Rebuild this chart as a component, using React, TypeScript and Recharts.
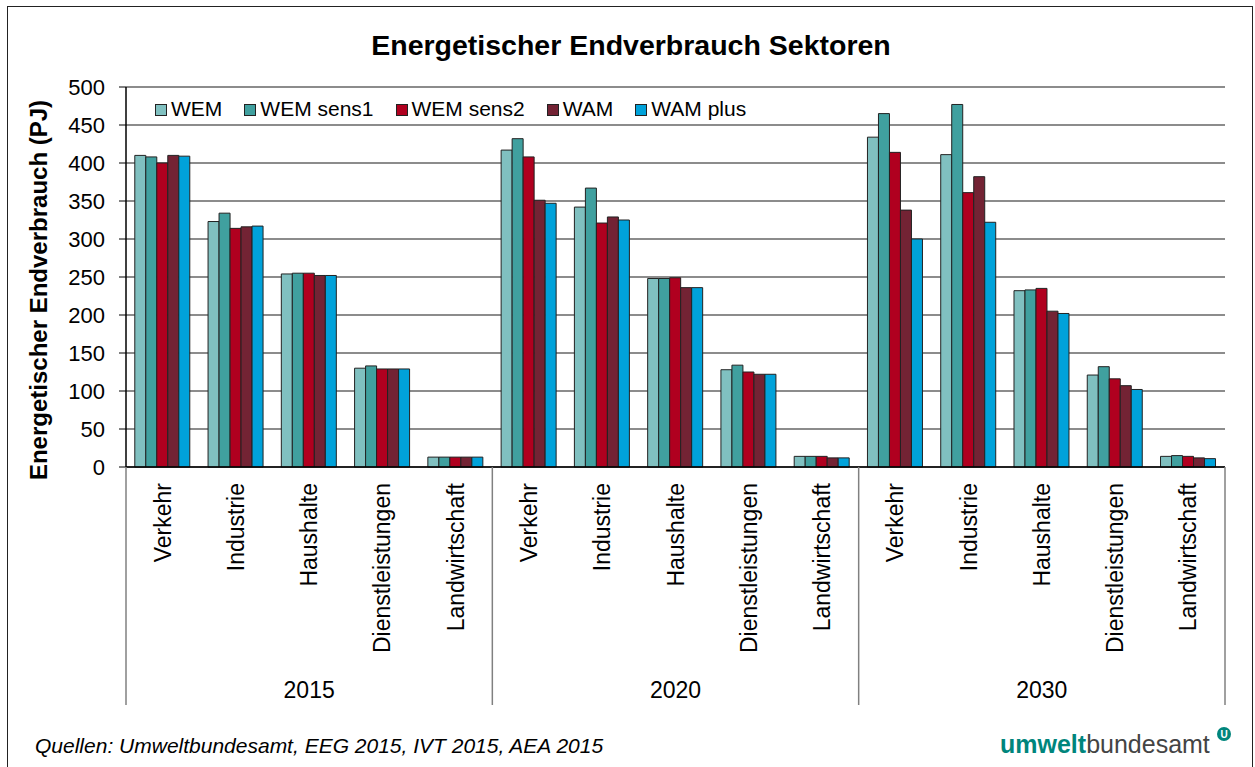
import { BarChart, Bar, XAxis, YAxis, CartesianGrid } from 'recharts'

const FONT = "'Liberation Sans', Arial, Helvetica, sans-serif"

const categories = ['Verkehr', 'Industrie', 'Haushalte', 'Dienstleistungen', 'Landwirtschaft']
const years = ['2015', '2020', '2030']

const seriesNames = ['WEM', 'WEM sens1', 'WEM sens2', 'WAM', 'WAM plus']
const seriesColors = ['#80c0c0', '#40a09f', '#b0001f', '#732334', '#00a2da']

// values in PJ, order: 2015 (5 sectors), 2020, 2030
const wem = [410, 323, 254, 130, 13, 417, 342, 248, 128, 14, 434, 411, 232, 121, 14]
const wemSens1 = [408, 334, 255, 133, 13, 432, 367, 248, 134, 14, 465, 477, 233, 132, 15]
const wemSens2 = [400, 314, 255, 129, 13, 408, 321, 249, 125, 14, 414, 361, 235, 116, 14]
const wam = [410, 316, 252, 129, 13, 351, 329, 236, 122, 12, 338, 382, 205, 107, 12]
const wamPlus = [409, 317, 252, 129, 13, 347, 325, 236, 122, 12, 300, 322, 202, 102, 11]

const yTicks = [0, 50, 100, 150, 200, 250, 300, 350, 400, 450, 500]

const seriesValues = [wem, wemSens1, wemSens2, wam, wamPlus]

const rows = years.flatMap((year, gi) =>
  categories.map((cat, ci) => {
    const i = gi * categories.length + ci
    const row: Record<string, string | number> = { cat, year }
    seriesNames.forEach((name, s) => {
      row[name] = seriesValues[s][i]
    })
    return row
  })
)

function CategoryTick(props: any) {
  const { x, y, payload } = props
  const i = payload?.index ?? props.index
  const half = payload?.offset || 36.6
  const n = categories.length
  const labelTop = y + 16
  return (
    <g>
      <text
        x={x}
        y={labelTop}
        transform={`rotate(-90, ${x}, ${labelTop})`}
        textAnchor="end"
        dominantBaseline="central"
        fontSize={23}
        fontFamily={FONT}
        fill="#000"
      >
        {payload.value}
      </text>
      {i % n === 0 && <line x1={x - half} x2={x - half} y1={y} y2={y + 238} stroke="#808080" strokeWidth={1.5} />}
      {i === rows.length - 1 && (
        <line x1={x + half} x2={x + half} y1={y} y2={y + 238} stroke="#808080" strokeWidth={1.5} />
      )}
      {i % n === 2 && (
        <text x={x} y={y + 223} textAnchor="middle" dominantBaseline="central" fontSize={23} fontFamily={FONT} fill="#000">
          {rows[i].year}
        </text>
      )}
    </g>
  )
}

function YLabel(props: any) {
  const vb = props.viewBox || { y: 87, height: 380 }
  const cx = 38
  const cy = vb.y + vb.height / 2 + 13
  return (
    <text
      x={cx}
      y={cy}
      transform={`rotate(-90, ${cx}, ${cy})`}
      textAnchor="middle"
      dominantBaseline="central"
      fontSize={24}
      fontWeight="bold"
      fontFamily={FONT}
      fill="#000"
    >
      Energetischer Endverbrauch (PJ)
    </text>
  )
}

export default function App() {
  return (
    <div
      style={{
        position: 'absolute',
        left: 0,
        top: 0,
        width: 1255,
        height: 767,
        overflow: 'hidden',
        background: '#fff',
        fontFamily: FONT,
      }}
    >
      <div
        style={{
          position: 'absolute',
          left: 7,
          top: 6,
          width: 1246,
          height: 800,
          border: '1.5px solid #222',
          boxSizing: 'border-box',
        }}
      />
      <div
        style={{
          position: 'absolute',
          left: 0,
          width: 1262,
          top: 31,
          textAlign: 'center',
          fontSize: 28.5,
          lineHeight: '28px',
          fontWeight: 'bold',
          color: '#000',
        }}
      >
        Energetischer Endverbrauch Sektoren
      </div>

      <BarChart
        width={1255}
        height={767}
        data={rows}
        margin={{ top: 87, right: 30, left: 0, bottom: 60 }}
        barCategoryGap="12%"
        barGap={0}
      >
        <CartesianGrid vertical={false} stroke="#1a1a1a" strokeWidth={1.2} />
        <XAxis
          dataKey="cat"
          interval={0}
          height={240}
          tickSize={0}
          tickMargin={0}
          tickLine={false}
          axisLine={{ stroke: '#000', strokeWidth: 1.5 }}
          tick={<CategoryTick />}
        />
        <YAxis
          domain={[0, 500]}
          ticks={yTicks}
          width={126}
          tickSize={7}
          tickMargin={14}
          tickLine={{ stroke: '#000' }}
          axisLine={{ stroke: '#000', strokeWidth: 1.5 }}
          tick={{ fontSize: 22, fill: '#000', fontFamily: FONT }}
          label={{ content: <YLabel /> }}
        />
        <YAxis
          yAxisId="frame"
          orientation="right"
          width={0}
          tick={false}
          tickLine={false}
          axisLine={{ stroke: '#000', strokeWidth: 1.5 }}
        />
        {seriesNames.map((name, s) => (
          <Bar
            key={name}
            dataKey={name}
            fill={seriesColors[s]}
            stroke="#222"
            strokeWidth={1}
            isAnimationActive={false}
          />
        ))}
      </BarChart>

      <div
        style={{
          position: 'absolute',
          left: 155,
          top: 98,
          display: 'flex',
          alignItems: 'center',
          fontSize: 21,
          lineHeight: '21px',
          color: '#000',
          whiteSpace: 'nowrap',
        }}
      >
        {seriesNames.map((name, s) => (
          <div key={name} style={{ display: 'flex', alignItems: 'center', marginRight: 22 }}>
            <span
              style={{
                display: 'inline-block',
                width: 12,
                height: 12,
                boxSizing: 'border-box',
                background: seriesColors[s],
                border: '1px solid #222',
                marginRight: 4,
                marginTop: 2,
              }}
            />
            <span>{name}</span>
          </div>
        ))}
      </div>

      <div
        style={{
          position: 'absolute',
          left: 35,
          top: 735,
          fontSize: 21,
          lineHeight: '21px',
          fontStyle: 'italic',
          color: '#000',
          whiteSpace: 'nowrap',
        }}
      >
        Quellen: Umweltbundesamt, EEG 2015, IVT 2015, AEA 2015
      </div>

      <div
        style={{
          position: 'absolute',
          left: 1000,
          top: 732,
          fontSize: 25,
          lineHeight: '25px',
          whiteSpace: 'nowrap',
        }}
      >
        <span style={{ color: '#00857c', fontWeight: 'bold' }}>umwelt</span>
        <span style={{ color: '#444' }}>bundesamt</span>
      </div>
      <svg style={{ position: 'absolute', left: 1216, top: 726 }} width={16} height={16}>
        <circle cx={8} cy={8} r={7} fill="#00857c" />
        <text x={8} y={8.5} textAnchor="middle" dominantBaseline="central" fontSize={10} fontWeight="bold" fill="#fff" fontFamily={FONT}>
          U
        </text>
      </svg>
    </div>
  )
}
